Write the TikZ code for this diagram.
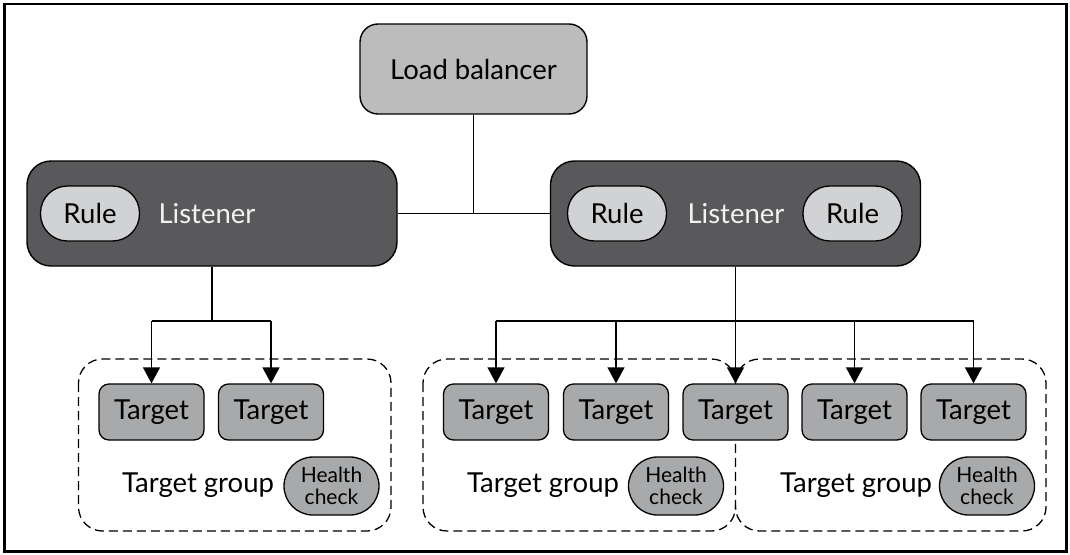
\documentclass[tikz,border=0pt]{standalone}
\usepackage{fontspec}
\setmainfont{Lato}
\usetikzlibrary{arrows.meta}
\definecolor{colLB}{HTML}{BCBCBC}
\definecolor{colLst}{HTML}{59595B}
\definecolor{colRule}{HTML}{D1D2D4}
\definecolor{colTgt}{HTML}{A8A9AB}
\definecolor{colLstTxt}{HTML}{F2F2F2}
\def\boxfont{\fontsize{27.5pt}{31pt}\selectfont}
\def\hcfont{\fontsize{21pt}{21.5pt}\selectfont}
\tikzset{
  lbbox/.style={draw=black, line width=1.4pt, fill=colLB, rounded corners=18pt,
    minimum width=227pt, minimum height=90pt, inner sep=0pt, font=\boxfont},
  lstbox/.style={draw=black, line width=1.4pt, fill=colLst, rounded corners=24pt,
    minimum width=370pt, minimum height=105pt, inner sep=0pt},
  lsttext/.style={inner sep=0pt, font=\boxfont, text=colLstTxt},
  rulebox/.style={draw=black, line width=1.3pt, fill=colRule, rounded corners=27pt,
    minimum width=99pt, minimum height=55pt, inner sep=0pt, font=\boxfont},
  tgtbox/.style={draw=black, line width=1.3pt, fill=colTgt, rounded corners=10pt,
    minimum width=105pt, minimum height=56pt, inner sep=0pt, font=\boxfont},
  hcbox/.style={draw=black, line width=1.3pt, fill=colTgt, rounded corners=29pt,
    minimum width=95pt, minimum height=58pt, inner sep=0pt, font=\hcfont, align=center},
  grptext/.style={inner sep=0pt, font=\boxfont},
  grpbox/.style={draw=black, line width=1.3pt, dash pattern=on 9pt off 5pt, rounded corners=24pt},
  link/.style={line width=1.3pt},
  arr/.style={line width=1.3pt, -{Triangle[width=17pt,length=16pt]}},
}
\begin{document}
\begin{tikzpicture}[x=1pt, y=-1pt]
\useasboundingbox (0,0) rectangle (1070,554);
\draw[line width=2.5pt] (4.5,4) rectangle (1066.5,551.5);

% target groups (behind the targets)
\draw[grpbox] (78.5,359) rectangle (391,531);
\draw[grpbox] (423,359) rectangle (735.5,531);
% third group shares its left edge with the second one
\draw[grpbox] (735.5,384) -- (735.5,359) -- (1046,359) -- (1046,531)
  -- (735.5,531) -- (735.5,505);

% load balancer and listeners
\node[lbbox] (lb) at (473.5,69) {Load balancer};

\node[lstbox] (lstL) at (212,213.5) {};
\node[rulebox] (ruleL) at (90,213.5) {Rule};
\node[lsttext] (lstLtxt) at (207,213.5) {Listener};

\node[lstbox] (lstR) at (735.5,213.5) {};
\node[rulebox] (ruleRa) at (617,213.5) {Rule};
\node[lsttext] (lstRtxt) at (736,213.5) {Listener};
\node[rulebox] (ruleRb) at (852.5,213.5) {Rule};

% targets
\node[tgtbox] (t1) at (151.5,412) {Target};
\node[tgtbox] (t2) at (271,412) {Target};
\node[tgtbox] (t3) at (496,412) {Target};
\node[tgtbox] (t4) at (616,412) {Target};
\node[tgtbox] (t5) at (735.5,412) {Target};
\node[tgtbox] (t6) at (854.5,412) {Target};
\node[tgtbox] (t7) at (973.5,412) {Target};

% group labels and health checks
\node[grptext] (g1txt) at (198,485) {Target group};
\node[hcbox] (hc1) at (331.5,486) {Health\\check};
\node[grptext] (g2txt) at (543,485) {Target group};
\node[hcbox] (hc2) at (676,486) {Health\\check};
\node[grptext] (g3txt) at (856,485) {Target group};
\node[hcbox] (hc3) at (987,486) {Health\\check};

% connectors
\draw[link] (lstL.east) -- (lstR.west);
\draw[link] (lb.south) -- (lb.south |- lstL.east);

\coordinate (busL) at (212,321);
\draw[link] (lstL.south) -- (busL);
\draw[link] (busL -| t1.north) -- (busL -| t2.north);
\draw[arr] (busL -| t1.north) -- (t1.north);
\draw[arr] (busL -| t2.north) -- (t2.north);

\coordinate (busR) at (735.5,321);
\draw[link] (busR -| t3.north) -- (busR -| t7.north);
\draw[arr] (lstR.south) -- (t5.north);
\foreach \t in {t3,t4,t6,t7}
  \draw[arr] (busR -| \t.north) -- (\t.north);

\end{tikzpicture}
\end{document}
